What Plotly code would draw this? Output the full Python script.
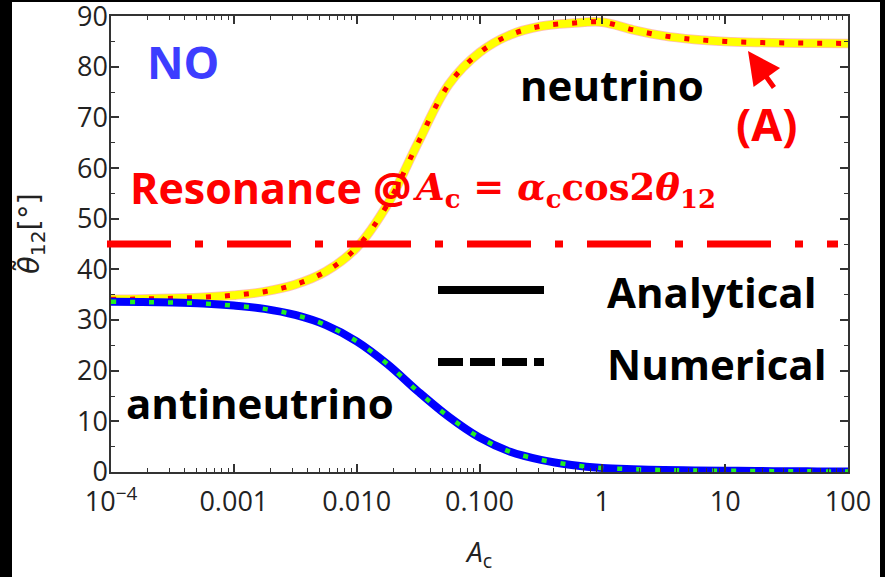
import plotly.graph_objects as go

# Effective coupling A_c (log-spaced sample points)
a_c = [1.0e-4, 1.78e-4, 3.16e-4, 5.62e-4, 1.0e-3, 1.78e-3, 3.16e-3, 5.62e-3,
       1.0e-2, 1.78e-2, 3.16e-2, 5.62e-2, 1.0e-1, 1.78e-1, 3.16e-1, 5.62e-1,
       1.0, 1.78, 3.16, 5.62, 10.0, 17.8, 31.6, 56.2, 100.0]

# Effective mixing angle theta_12 in matter [deg]
theta_nu = [34.1, 34.15, 34.3, 34.5, 34.9, 35.6, 37.0, 39.6,
            44.3, 52.8, 65.0, 76.5, 82.8, 86.3, 88.0, 88.6,
            88.8, 87.3, 86.1, 85.4, 85.0, 84.8, 84.7, 84.65, 84.6]
theta_antinu = [33.6, 33.55, 33.45, 33.25, 32.85, 32.2, 31.0, 29.0,
                25.8, 21.3, 15.9, 10.9, 6.8, 4.0, 2.4, 1.4,
                0.8, 0.55, 0.4, 0.3, 0.25, 0.2, 0.15, 0.12, 0.1]

RESONANCE_ANGLE = 45.0

x_tick_vals = [1e-4, 1e-3, 1e-2, 1e-1, 1, 10, 100]
x_tick_text = ["10<sup>\u22124</sup>", "0.001", "0.010", "0.100", "1", "10", "100"]
y_tick_vals = [0, 10, 20, 30, 40, 50, 60, 70, 80, 90]

# minor log ticks 2..9 in every decade
x_minor = [m * d for d in [1e-4, 1e-3, 1e-2, 1e-1, 1, 10] for m in range(2, 10)]

fig = go.Figure()

# neutrino: analytical (thick yellow) + numerical (red dashes)
fig.add_trace(go.Scatter(x=a_c, y=theta_nu, mode="lines",
                         line=dict(color="rgba(255,60,60,0.35)", width=9.5, shape="spline"),
                         hoverinfo="skip", showlegend=False))
fig.add_trace(go.Scatter(x=a_c, y=theta_nu, mode="lines",
                         line=dict(color="#ffff00", width=8, shape="spline"),
                         showlegend=False))
fig.add_trace(go.Scatter(x=a_c, y=theta_nu, mode="lines",
                         line=dict(color="#ff0000", width=5, dash="5px,14px", shape="spline"),
                         showlegend=False))
# antineutrino: analytical (thick blue) + numerical (green dashes)
fig.add_trace(go.Scatter(x=a_c, y=theta_antinu, mode="lines",
                         line=dict(color="#0000ff", width=8, shape="spline"),
                         showlegend=False))
fig.add_trace(go.Scatter(x=a_c, y=theta_antinu, mode="lines",
                         line=dict(color="#22ee22", width=4.5, dash="5px,14px", shape="spline"),
                         showlegend=False))

# pixel helpers for the layout (plot area 111..848 x 16..472)
L, R, T, B = 111, 848, 16, 472


def px(x):
    return (x - L) / (R - L)


def py(y):
    return (B - y) / (B - T)


shapes = [
    # white panel on the black page
    dict(type="rect", xref="paper", yref="paper", x0=px(12), x1=px(880), y0=py(577), y1=py(2),
         fillcolor="white", line=dict(width=0), layer="below"),
    # resonance line
    dict(type="line", xref="paper", yref="y", x0=px(107), x1=px(838),
         y0=RESONANCE_ANGLE, y1=RESONANCE_ANGLE,
         line=dict(color="#ff0000", width=7, dash="64px,24px,8px,24px")),
    # legend samples
    dict(type="line", xref="paper", yref="paper", x0=px(438), x1=px(544), y0=py(290), y1=py(290),
         line=dict(color="black", width=8)),
    dict(type="line", xref="paper", yref="paper", x0=px(438), x1=px(544), y0=py(362), y1=py(362),
         line=dict(color="black", width=8, dash="25px,7px")),
]

FONT = "Open Sans"
SERIF = "DejaVu Serif"


def label(text, x, y, size, color="black", xanchor="center", family=FONT, **kw):
    return dict(text=text, xref="paper", yref="paper", x=px(x), y=py(y), showarrow=False,
                xanchor=xanchor, yanchor="middle",
                font=dict(family=family, size=size, color=color), **kw)


annotations = [
    label("<b>NO</b>", 183, 62, 45, color="#3d3dff"),
    label("<b>neutrino</b>", 612, 85, 42),
    label("<b>antineutrino</b>", 260, 402, 42),
    label("<b>(A)</b>", 767, 124, 45, color="#ff0000"),
    label("<b>Resonance @</b>", 128, 188, 43, color="#ff0000", xanchor="left"),
    label("<b><i>A</i><sub>c</sub> = <i>\u03b1</i><sub>c</sub>cos2<i>\u03b8</i><sub>12</sub></b>",
          411, 190, 37, color="#ff0000", xanchor="left", family=SERIF),
    label("<b>Analytical</b>", 605, 291, 42, xanchor="left"),
    label("<b>Numerical</b>", 605, 363, 42, xanchor="left"),
    # axis titles
    label("<i>A</i><sub>c</sub>", 478, 553, 28, color="#222"),
    label("<i>\u03b8</i><sub>12</sub>[\u00b0]", 31, 234, 29, color="#222", textangle=-90,
          family="DejaVu Sans"),
    label("\u02dc", 24, 266, 30, color="#222", textangle=-90, family="DejaVu Sans"),
    # pointer to (A)
    dict(text="", xref="paper", yref="paper", x=px(748), y=py(51), ax=27, ay=38,
         showarrow=True, arrowhead=2, arrowsize=1.3, arrowwidth=5, arrowcolor="#ff0000"),
]

axis_common = dict(showgrid=False, zeroline=False, showline=True, linecolor="#333",
                   linewidth=1.5, mirror="allticks", ticks="inside", tickcolor="#333",
                   tickwidth=1.5, ticklabeloverflow="allow", automargin=False,
                   tickfont=dict(family=FONT, size=27, color="#222"))

fig.update_layout(
    width=885, height=577,
    margin=dict(l=L, r=885 - R, t=T, b=577 - B, autoexpand=False),
    paper_bgcolor="black", plot_bgcolor="white",
    xaxis=dict(type="log", range=[-4, 2], tickmode="array", tickvals=x_tick_vals,
               ticktext=x_tick_text, ticklen=8, ticklabelstandoff=5,
               minor=dict(ticks="inside", ticklen=4, tickmode="array", tickvals=x_minor,
                          tickcolor="#333", tickwidth=1.2),
               **axis_common),
    yaxis=dict(range=[0, 90.02], tickmode="array", tickvals=y_tick_vals, ticklen=8,
               ticklabelstandoff=-4,
               minor=dict(ticks="inside", ticklen=4, dtick=5, tickcolor="#333", tickwidth=1.2),
               **axis_common),
    shapes=shapes, annotations=annotations, showlegend=False,
)

fig.write_html("out.html")
